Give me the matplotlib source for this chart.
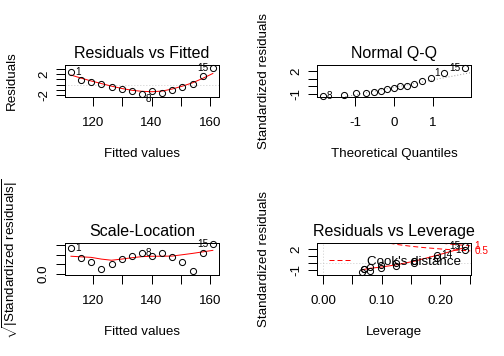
import numpy as np
import matplotlib
matplotlib.use('Agg')
import matplotlib.pyplot as plt
from matplotlib import transforms
from matplotlib.lines import Line2D

plt.rcParams['font.family'] = ['Liberation Sans', 'DejaVu Sans']
plt.rcParams['mathtext.fontset'] = 'custom'
plt.rcParams['mathtext.rm'] = 'Liberation Sans'
plt.rcParams['mathtext.it'] = 'Liberation Sans:italic'

# lm diagnostics, 15 observations
obs = list(range(1, 16))
fitted = [112.58, 116.03, 119.48, 122.93, 126.38, 129.83, 133.28, 136.73,
          140.18, 143.63, 147.08, 150.53, 153.98, 157.43, 160.88]
resid = [2.42, 0.97, 0.52, 0.07, -0.38, -0.83, -1.28, -1.73,
         -1.18, -1.63, -1.08, -0.53, 0.02, 1.57, 3.12]
std_resid = [1.82, 0.71, 0.37, 0.05, -0.26, -0.57, -0.87, -1.18,
             -0.80, -1.12, -0.75, -0.37, 0.01, 1.15, 2.35]
sqrt_abs_std = [1.35, 0.84, 0.61, 0.22, 0.51, 0.76, 0.93, 1.08,
                0.90, 1.06, 0.87, 0.61, 0.11, 1.07, 1.53]
leverage = [0.242, 0.195, 0.156, 0.124, 0.099, 0.081, 0.070, 0.067,
            0.070, 0.081, 0.099, 0.124, 0.156, 0.195, 0.242]
theo_q = [-1.83, -1.28, -0.97, -0.73, -0.52, -0.34, -0.17, 0.0,
          0.17, 0.34, 0.52, 0.73, 0.97, 1.28, 1.83]

# red smoothers
rvf_smooth = [1.85, 1.25, 0.70, 0.20, -0.30, -0.75, -1.10, -1.30,
              -1.38, -1.25, -0.85, -0.30, 0.35, 1.20, 2.15]
sl_smooth = [0.91, 0.88, 0.85, 0.76, 0.70, 0.76, 0.83, 0.89,
             0.91, 0.91, 0.92, 0.99, 1.06, 1.14, 1.22]
lev_x = [0.067, 0.070, 0.081, 0.099, 0.124, 0.156, 0.195, 0.242]
lev_smooth = [-0.95, -0.88, -0.72, -0.55, -0.25, 0.28, 1.12, 2.20]

# qq reference line
qq_intercept = -0.12
qq_slope = 0.97

# cook's distance contours
cook05_h = [0.10, 0.11, 0.13, 0.15, 0.17, 0.19, 0.21, 0.23, 0.2513]
cook05_y = [3.00, 2.85, 2.59, 2.38, 2.21, 2.07, 1.94, 1.83, 1.73]
cook1_h = [0.19, 0.20, 0.21, 0.22, 0.23, 0.24, 0.2513]
cook1_y = [2.92, 2.83, 2.74, 2.66, 2.59, 2.52, 2.44]
cook_labels = ['0.5', '1']
cook_label_y = [1.73, 2.44]

W, H = 504, 356
fig = plt.figure(figsize=(W / 96, H / 96), dpi=96)


def add_box(col, row):
    left = 65.3 + 252 * col
    top = 65.3 + 178 * row
    return fig.add_axes([left / W, 1 - (top + 31.4) / H, 153.2 / W, 31.4 / H])


def r_lim(lo, hi, f=0.0):
    d = hi - lo
    lo, hi = lo - f * d, hi + f * d
    d = hi - lo
    return lo - 0.04 * d, hi + 0.04 * d


def style(ax, title, xlab, ylab, xt, xl, yt, yl, ylab_x=-0.309):
    ax.set_xticks(xt)
    ax.set_xticklabels(xl)
    ax.set_yticks(yt)
    ax.set_yticklabels(yl)
    ax.tick_params(direction='out', length=6.5, width=0.75, labelsize=10)
    ax.tick_params(axis='x', pad=8.5)
    ax.tick_params(axis='y', pad=5, labelrotation=90)
    for lab in ax.get_yticklabels():
        lab.set_va('center')
    for s in ax.spines.values():
        s.set_linewidth(0.75)
    ax.set_title(title, fontsize=12, pad=5.25)
    ax.set_xlabel(xlab, fontsize=10)
    ax.xaxis.set_label_coords(0.5, -1.634)
    ax.set_ylabel(ylab, fontsize=10)
    ax.yaxis.set_label_coords(ylab_x, 0.5)


def pts(ax, x, y):
    ax.plot(x, y, 'o', ms=4.6, mfc='none', mec='black', mew=0.75, clip_on=False, zorder=3)


def label(ax, x, y, txt, side, dy=0):
    dx = 3 if side == 'right' else -3
    ax.annotate(txt, (x, y), xytext=(dx, dy), textcoords='offset points',
                ha='left' if side == 'right' else 'right', va='center',
                fontsize=7.5, annotation_clip=False, zorder=4)


dot = (0, (0.75, 2.25))

# 1 Residuals vs Fitted
ax = add_box(0, 0)
ax.set_xlim(r_lim(min(fitted), max(fitted)))
ax.set_ylim(r_lim(min(resid), max(resid), 0.08))
ax.axhline(0, color='#BEBEBE', lw=0.75, ls=dot)
pts(ax, fitted, resid)
ax.plot(fitted, rvf_smooth, color='red', lw=0.75)
label(ax, fitted[0], resid[0], '1', 'right')
label(ax, fitted[14], resid[14], '15', 'left')
label(ax, fitted[7], resid[7], '8', 'right', dy=-4)
style(ax, 'Residuals vs Fitted', 'Fitted values', 'Residuals',
      [120, 130, 140, 150, 160], ['120', '', '140', '', '160'],
      [-2, -1, 0, 1, 2, 3], ['-2', '', '', '', '2', ''])

# 2 Normal Q-Q
ax = add_box(1, 0)
qq_y = np.sort(std_resid)
order = np.argsort(std_resid)
ylo, yhi = min(std_resid), max(std_resid)
yhi = yhi + (yhi - ylo) * 0.075
ax.set_xlim(r_lim(min(theo_q), max(theo_q)))
ax.set_ylim(r_lim(ylo, yhi))
ax.axline((0, qq_intercept), slope=qq_slope, color='#7F7F7F', lw=0.75, ls=dot)
pts(ax, theo_q, qq_y)
for ob, side in [(15, 'left'), (1, 'left'), (8, 'right')]:
    k = int(np.where(order == ob - 1)[0][0])
    label(ax, theo_q[k], qq_y[k], str(ob), side)
style(ax, 'Normal Q-Q', 'Theoretical Quantiles', 'Standardized residuals',
      [-1, 0, 1], ['-1', '0', '1'],
      [-1, 0, 1, 2], ['-1', '', '', '2'])

# 3 Scale-Location
ax = add_box(0, 1)
ax.set_xlim(r_lim(min(fitted), max(fitted)))
ax.set_ylim(r_lim(0, max(sqrt_abs_std)))
pts(ax, fitted, sqrt_abs_std)
ax.plot(fitted, sl_smooth, color='red', lw=0.75)
label(ax, fitted[0], sqrt_abs_std[0], '1', 'right')
label(ax, fitted[14], sqrt_abs_std[14], '15', 'left')
label(ax, fitted[7], sqrt_abs_std[7], '8', 'right')
style(ax, 'Scale-Location', 'Fitted values',
      r'$\sqrt{|\mathrm{Standardized\ residuals}|}$',
      [120, 130, 140, 150, 160], ['120', '', '140', '', '160'],
      [0, 0.5, 1.0, 1.5], ['0.0', '', '', ''], ylab_x=-0.297)

# 4 Residuals vs Leverage
ax = add_box(1, 1)
ax.set_xlim(r_lim(0, max(leverage)))
ax.set_ylim(r_lim(min(std_resid), max(std_resid), 0.08))
ax.axhline(0, color='#BEBEBE', lw=0.75, ls=dot)
ax.axvline(0, color='#BEBEBE', lw=0.75, ls=dot)
pts(ax, leverage, std_resid)
ax.plot(lev_x, lev_smooth, color='red', lw=0.75)
ax.plot(cook05_h, cook05_y, color='red', lw=0.75, ls=(0, (5, 3)))
ax.plot(cook1_h, cook1_y, color='red', lw=0.75, ls=(0, (5, 3)))
tr = transforms.blended_transform_factory(ax.transAxes, ax.transData)
for txt, yv in zip(cook_labels, cook_label_y):
    ax.text(1 + 4 / 153.2, yv, txt, transform=tr, color='red', fontsize=7.5,
            ha='left', va='center', clip_on=False)
label(ax, leverage[14], std_resid[14], '15', 'left')
label(ax, leverage[0], std_resid[0], '1', 'left')
label(ax, leverage[13], std_resid[13], '14', 'right')
h = Line2D([], [], color='red', lw=0.75, ls=(0, (5, 3)))
ax.legend([h], ["Cook's distance"], loc='lower left', bbox_to_anchor=(0.03, 0.0),
          frameon=False, fontsize=10, handlelength=1.7, handletextpad=1.2,
          borderaxespad=0.3, borderpad=0.2)
style(ax, 'Residuals vs Leverage', 'Leverage', 'Standardized residuals',
      [0, 0.05, 0.10, 0.15, 0.20, 0.25], ['0.00', '', '0.10', '', '0.20', ''],
      [-1, 0, 1, 2], ['-1', '', '', '2'])

fig.savefig('out.png', dpi=96)
